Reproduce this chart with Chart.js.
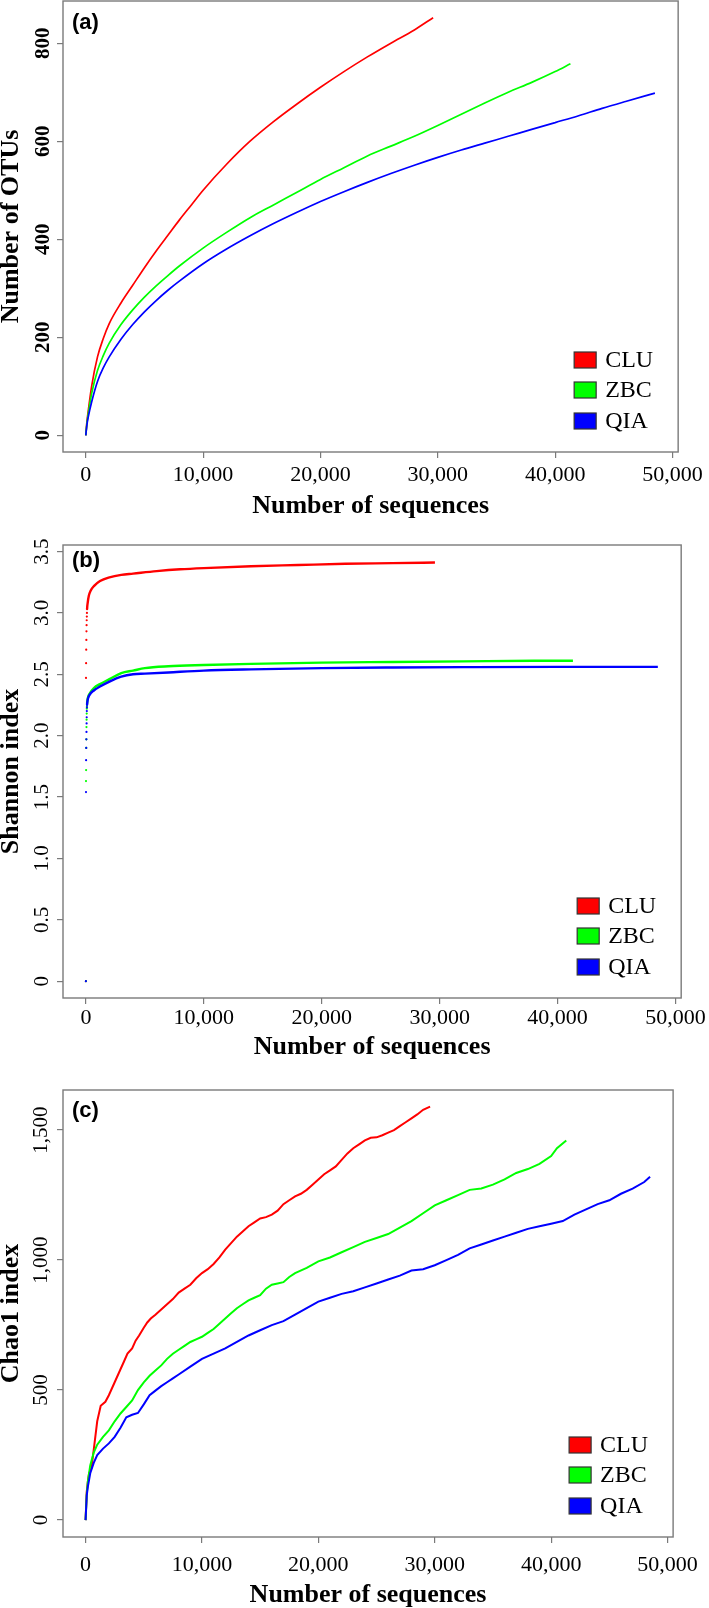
<!DOCTYPE html>
<html><head><meta charset="utf-8">
<script src="https://cdn.jsdelivr.net/npm/chart.js@4.4.1/dist/chart.umd.min.js"></script>
<style>
html,body{margin:0;padding:0;background:#fff;}
body{width:709px;height:1608px;position:relative;overflow:hidden;}
canvas{position:absolute;left:0;}
</style></head><body>
<canvas id="ca" width="709" height="526" style="top:0px"></canvas>
<canvas id="cb" width="709" height="534" style="top:526px"></canvas>
<canvas id="cc" width="709" height="548" style="top:1060px"></canvas>
<script>
// ---------- shared ----------
const seriesNames = ['CLU','ZBC','QIA'];
const seriesColors = ['#ff0000','#00ff00','#0000ff'];
const xTickValues = [0,10000,20000,30000,40000,50000];
const xTitle = 'Number of sequences';

// ---------- (a) Number of OTUs ----------
const otuTicks = [0,200,400,600,800];
const otuTickLabels = ['0','200','400','600','800'];
const otuX_CLU = [0,100,200,500,1000,1500,2000,3000,4000,5000,6000,7000,8000,9000,10000,12000,14000,16000,18000,20000,22000,24000,26000,28000,29600];
const otuY_CLU = [0,28,48,100,160,198,228,270,306,342,376,408,440,470,500,553,600,640,676,710,742,772,800,827,852];
const otuX_ZBC = [0,100,200,500,1000,1500,2000,3000,4000,5000,6000,7000,8000,10000,12000,14000,16000,18000,20000,22000,24000,26000,28000,30000,32000,34000,36000,38000,40000,41300];
const otuY_ZBC = [0,25,42,85,132,163,188,226,256,282,305,326,346,382,414,444,470,496,522,546,570,590,610,632,655,678,700,720,742,758];
const otuX_QIA = [0,100,200,500,1000,1500,2000,3000,4000,5000,6000,7000,8000,10000,12000,14000,16000,18000,20000,22000,24000,26000,28000,30000,32000,34000,36000,38000,40000,42000,44000,46000,48500];
const otuY_QIA = [0,22,36,68,110,138,160,196,226,252,275,296,315,350,380,407,432,455,477,497,516,534,551,567,582,596,610,624,638,652,667,681,698];

// ---------- (b) Shannon index ----------
const shannonTicks = [0,0.5,1,1.5,2,2.5,3,3.5];
const shannonTickLabels = ['0','0.5','1.0','1.5','2.0','2.5','3.0','3.5'];
const shX_CLU = [1,10,20,30,40,50,60,70,80,90,100,150,250,400,700,1200,2000,3000,4000,6000,8000,10000,14000,18000,22000,26000,29600];
const shY_CLU = [0,2.47,2.59,2.70,2.78,2.85,2.90,2.94,2.97,3.00,3.03,3.08,3.14,3.18,3.22,3.26,3.29,3.31,3.32,3.34,3.355,3.365,3.38,3.39,3.40,3.405,3.41];
const shX_ZBC = [1,10,20,30,40,50,60,70,80,90,100,150,300,700,1200,2000,3000,4000,5000,7000,10000,14000,20000,26000,32000,38000,41300];
const shY_ZBC = [0,1.63,1.72,1.90,1.97,2.07,2.13,2.18,2.22,2.24,2.26,2.30,2.34,2.39,2.42,2.46,2.51,2.53,2.55,2.565,2.575,2.585,2.595,2.60,2.605,2.61,2.61];
const shX_QIA = [1,10,20,30,40,50,60,70,80,90,100,150,300,700,1200,2000,3000,4000,5000,7000,10000,14000,20000,26000,32000,40000,48500];
const shY_QIA = [0,1.54,1.80,1.90,1.97,2.03,2.10,2.15,2.20,2.23,2.25,2.29,2.33,2.37,2.40,2.44,2.48,2.50,2.505,2.515,2.53,2.54,2.55,2.555,2.558,2.56,2.56];

// ---------- (c) Chao1 index ----------
const chaoTicks = [0,500,1000,1500];
const chaoTickLabels = ['0','500','1,000','1,500'];
const chX_CLU = [0,100,200,300,500,700,1000,1300,1700,2000,2500,3000,3300,3600,4000,4300,4600,5000,5300,5600,6000,6500,7000,7500,8000,8500,9000,9500,10000,10500,11000,11500,12000,12500,13000,13500,14000,14500,15000,15500,16000,16500,17000,17500,18000,18500,19000,19500,20000,20500,21000,21500,22000,22500,23000,23500,24000,24500,25000,25500,26000,26500,27000,27500,28000,28500,29000,29600];
const chY_CLU = [0,110,150,180,200,270,380,440,455,480,530,580,610,640,660,690,710,740,760,775,790,810,830,850,875,890,905,930,950,965,985,1010,1040,1065,1090,1110,1130,1145,1160,1165,1175,1190,1215,1230,1245,1255,1270,1290,1310,1330,1345,1360,1385,1410,1430,1445,1460,1470,1472,1480,1490,1500,1515,1530,1545,1560,1578,1590];
const chX_ZBC = [0,100,200,400,700,1000,1500,2000,2500,3000,3500,4000,4500,5000,5500,6000,6500,7000,7500,8000,8500,9000,9500,10000,10500,11000,11500,12000,12500,13000,13500,14000,14500,15000,15500,16000,16500,17000,17500,18000,19000,20000,21000,22000,23000,24000,25000,26000,27000,28000,29000,30000,31000,32000,33000,34000,35000,36000,37000,38000,39000,40000,40500,41300];
const chY_ZBC = [0,100,150,210,260,290,320,345,380,410,435,460,500,530,555,575,595,620,640,655,670,685,695,705,720,735,755,775,795,815,830,845,855,865,890,905,910,915,935,950,970,995,1010,1030,1050,1070,1085,1100,1125,1150,1180,1210,1230,1250,1270,1275,1290,1310,1335,1350,1370,1400,1430,1460];
const chX_QIA = [0,100,200,400,700,1000,1500,2000,2500,3000,3500,4000,4500,5000,5500,6000,6500,7000,7500,8000,9000,10000,11000,12000,13000,14000,15000,16000,17000,18000,19000,20000,21000,22000,23000,24000,25000,26000,27000,28000,29000,30000,31000,32000,33000,34000,35000,36000,37000,38000,39000,40000,41000,42000,43000,44000,45000,46000,47000,48000,48500];
const chY_QIA = [0,95,130,180,220,250,275,295,320,355,395,405,412,445,480,498,515,530,545,560,590,620,640,660,685,710,730,750,765,790,815,840,855,870,880,895,910,925,940,960,965,980,1000,1020,1045,1060,1075,1090,1105,1120,1130,1140,1150,1175,1195,1215,1230,1255,1275,1300,1320];

// ---------- helpers ----------
const SERIF = '"Liberation Serif","Times New Roman",serif';
function pts(xs, ys){ return xs.map((x,i)=>({x:x, y:ys[i]})); }

const panelPlugin = {
  id:'panel',
  afterDraw(chart, args, o){
    const ctx = chart.ctx, a = chart.chartArea;
    ctx.save();
    ctx.strokeStyle = '#7a7a7a'; ctx.lineWidth = 1.4;
    ctx.strokeRect(a.left, a.top, a.right-a.left, a.bottom-a.top);
    // y tick labels (rotated, R style)
    const ys = chart.scales.y;
    ctx.fillStyle = '#000';
    ctx.font = (o.yBold ? 'bold ' : '') + '21px ' + SERIF;
    ctx.textAlign = 'center'; ctx.textBaseline = 'middle';
    o.yTicks.forEach((v,i)=>{
      const py = ys.getPixelForValue(v);
      ctx.save(); ctx.translate(o.yLabelX, py); ctx.rotate(-Math.PI/2);
      ctx.fillText(o.yLabels[i], 0, 0); ctx.restore();
    });
    // panel letter
    ctx.font = 'bold 22px "Liberation Sans",Arial,sans-serif';
    ctx.textAlign = 'left'; ctx.textBaseline = 'middle';
    ctx.fillText(o.letter, a.left + 9, a.top + o.letterDy);
    // legend
    const offs = [-92,-62,-31];
    ctx.font = '24px ' + SERIF;
    seriesNames.forEach((n,i)=>{
      const cy = a.bottom + offs[i];
      ctx.fillStyle = seriesColors[i];
      ctx.fillRect(a.right-104, cy-8, 22, 16);
      ctx.strokeStyle = '#333'; ctx.lineWidth = 1.2;
      ctx.strokeRect(a.right-104, cy-8, 22, 16);
      ctx.fillStyle = '#000';
      ctx.fillText(n, a.right-73, cy+1);
    });
    ctx.restore();
  }
};

function makeChart(id, datasets, cfg){
  new Chart(document.getElementById(id), {
    type:'scatter',
    data:{datasets:datasets},
    options:{
      responsive:false, animation:false, devicePixelRatio:1,
      layout:{padding:{top:cfg.padTop, right:25, left:0, bottom:0}},
      plugins:{legend:{display:false}, tooltip:{enabled:false},
        panel:{letter:cfg.letter, letterDy:cfg.letterDy, yTicks:cfg.yTicks, yLabels:cfg.yLabels, yBold:cfg.yBold, yLabelX:cfg.yLabelX}},
      scales:{
        x:{type:'linear', min:-1940, max:50480,
          afterFit:s=>{ s.height = cfg.xHeight; },
          afterBuildTicks:s=>{ s.ticks = xTickValues.map(v=>({value:v})); },
          grid:{drawOnChartArea:false, drawTicks:true, tickLength:6, color:'#7a7a7a', lineWidth:1.2},
          border:{display:false},
          ticks:{color:'#000', padding:cfg.xTickPad, maxRotation:0, autoSkip:false,
            font:{family:SERIF, size:22, lineHeight:1},
            callback:v=>Number(v).toLocaleString('en-US')},
          title:{display:true, text:xTitle, color:'#000', padding:{top:0,bottom:cfg.xTitlePad},
            font:{family:SERIF, size:26, weight:'bold', lineHeight:1}}
        },
        y:{type:'linear', min:cfg.yMin, max:cfg.yMax,
          afterFit:s=>{ s.width = 63; },
          afterBuildTicks:s=>{ s.ticks = cfg.yTicks.map(v=>({value:v})); },
          grid:{drawOnChartArea:false, drawTicks:true, tickLength:6, color:'#7a7a7a', lineWidth:1.2},
          border:{display:false},
          ticks:{display:false},
          title:{display:true, text:cfg.yTitle, color:'#000', padding:{top:0,bottom:0},
            font:{family:SERIF, size:26, weight:'bold', lineHeight:0.85}}
        }
      }
    },
    plugins:[panelPlugin]
  });
}

function lineSet(xs, ys, i, w, smooth){
  return {label:seriesNames[i], data:pts(xs,ys), showLine:true, borderColor:seriesColors[i],
    backgroundColor:seriesColors[i], borderWidth:w, pointRadius:0, order:3-i,
    cubicInterpolationMode: smooth ? 'monotone' : 'default', tension:0};
}
function dotSet(xs, ys, i, w){
  return {label:seriesNames[i], data:pts(xs,ys), showLine:true, borderColor:seriesColors[i],
    backgroundColor:seriesColors[i], borderWidth:w, order:3-i,
    cubicInterpolationMode:'monotone',
    pointRadius:c=> (c.parsed && c.parsed.x <= 100) ? 1.1 : 0,
    pointBorderWidth:0,
    segment:{borderColor:c=> c.p1.parsed.x <= 100 ? 'rgba(0,0,0,0)' : undefined}};
}

makeChart('ca', [
  lineSet(otuX_CLU, otuY_CLU, 0, 1.7, true),
  lineSet(otuX_ZBC, otuY_ZBC, 1, 1.7, true),
  lineSet(otuX_QIA, otuY_QIA, 2, 1.7, true)
], {padTop:1, xHeight:74, xTickPad:6, xTitlePad:7, yMin:-34, yMax:886,
    yTicks:otuTicks, yLabels:otuTickLabels, yBold:true, yLabelX:44,
    yTitle:'Number of OTUs', letter:'(a)', letterDy:22});

makeChart('cb', [
  dotSet(shX_CLU, shY_CLU, 0, 2.4),
  dotSet(shX_ZBC, shY_ZBC, 1, 2.4),
  dotSet(shX_QIA, shY_QIA, 2, 2.4)
], {padTop:19, xHeight:62, xTickPad:3, xTitlePad:0, yMin:-0.137, yMax:3.553,
    yTicks:shannonTicks, yLabels:shannonTickLabels, yBold:false, yLabelX:42,
    yTitle:'Shannon index', letter:'(b)', letterDy:16});

makeChart('cc', [
  lineSet(chX_CLU, chY_CLU, 0, 2, false),
  lineSet(chX_ZBC, chY_ZBC, 1, 2, false),
  lineSet(chX_QIA, chY_QIA, 2, 2, false)
], {padTop:30, xHeight:71, xTickPad:11, xTitlePad:0, yMin:-65, yMax:1654,
    yTicks:chaoTicks, yLabels:chaoTickLabels, yBold:false, yLabelX:41,
    yTitle:'Chao1 index', letter:'(c)', letterDy:21});
</script>
</body></html>
